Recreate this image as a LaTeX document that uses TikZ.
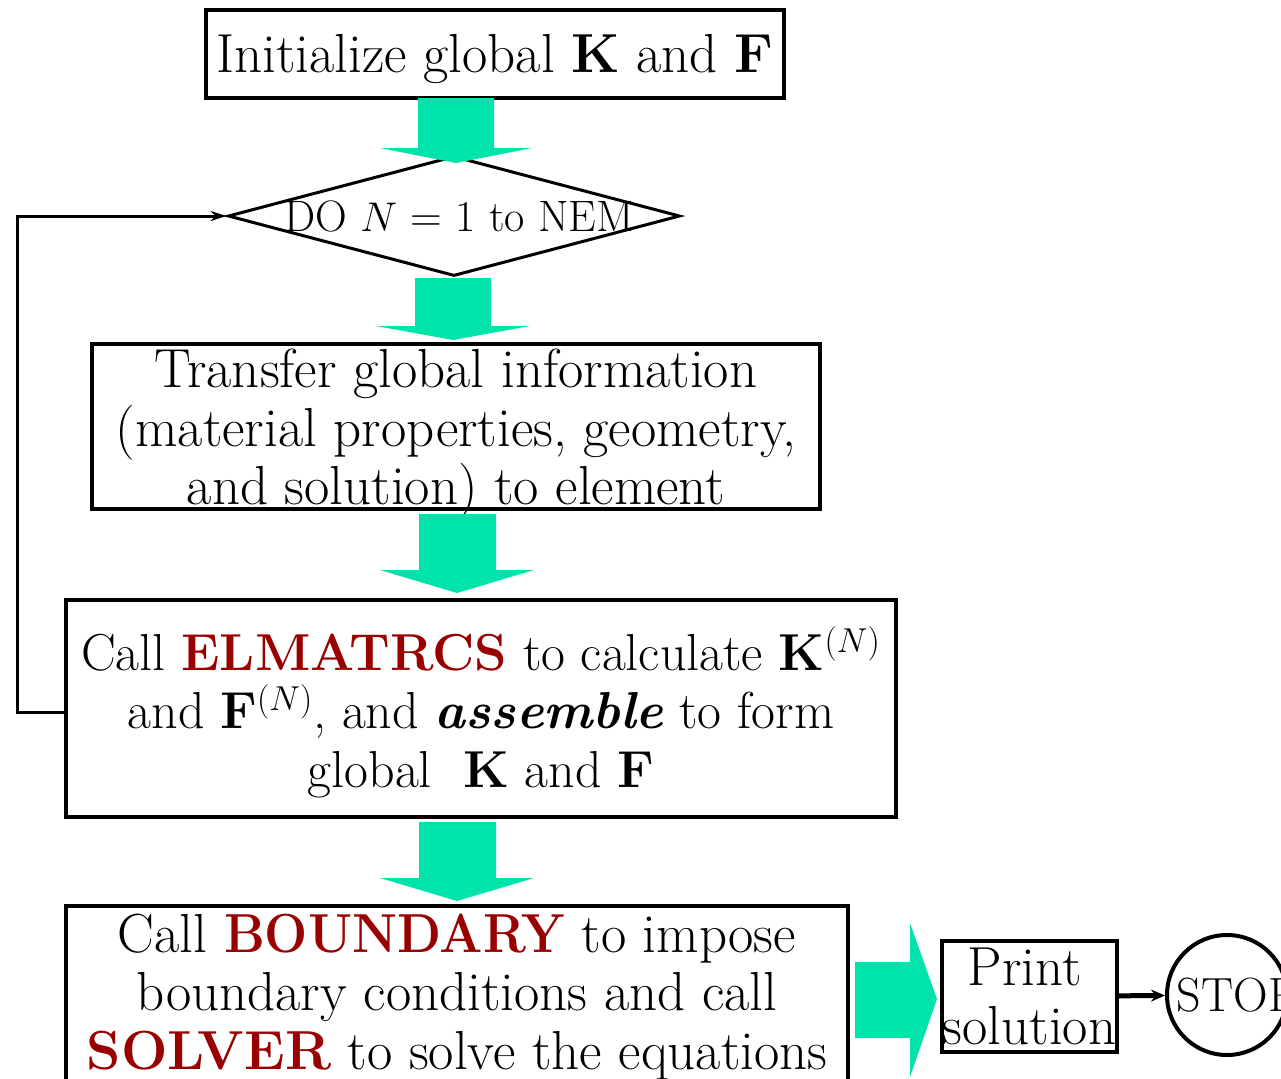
\documentclass[tikz,border=0pt]{standalone}
\usetikzlibrary{shapes.geometric,arrows.meta,calc}
\definecolor{blockgreen}{RGB}{0,227,170}
\definecolor{darkred}{RGB}{153,0,0}
\newcommand\redword[1]{\textcolor{darkred}{\textbf{#1}}}
\begin{document}
\begin{tikzpicture}[x=0.5pt,y=-0.5pt,
  box/.style={draw, line width=2pt, inner sep=0pt},
  txt/.style={inner sep=0pt, align=center, font=\fontsize{27.5}{29.25}\selectfont},
  blockarrow/.style={fill=blockgreen, draw=none},
  loopline/.style={line width=1.5pt, -{Stealth[length=8pt,width=5pt]}},
  thickarrow/.style={line width=2.5pt, -{Stealth[length=7pt,width=6pt]}}]
\useasboundingbox (0,0) rectangle (1281,1078);
\clip (0,0) rectangle (1281,1078);

\node[box, minimum width=289pt, minimum height=44pt,
  label={[txt, yshift=-2.5pt]center:Initialize global \textbf{K} and \textbf{F}}] (init) at (495,54) {};

\node[diamond, draw, line width=1.5pt, minimum width=226pt, minimum height=60pt, inner sep=0pt,
  font=\fontsize{22}{24}\selectfont] (dia) at (454,216)
  {\makebox[0pt]{\hspace*{5pt}DO $N$ = 1 to NEM}};

\node[box, minimum width=364pt, minimum height=82.5pt,
  label={[txt, yshift=-4pt]center:Transfer global information\\(material properties, geometry,\\and solution) to element}] (transfer) at (456,426) {};

\node[box, minimum width=415pt, minimum height=108.5pt,
  label={[txt, font=\fontsize{26}{29.25}\selectfont, yshift=-2pt]center:Call \redword{ELMATRCS} to calculate \textbf{K}$^{(N)}$\\and \textbf{F}$^{(N)}$, and \textbf{\textit{assemble}} to form\\global\ \ \textbf{K} and \textbf{F}}] (elmat) at (481,708) {};

\node[box, minimum width=391pt, minimum height=100pt,
  label={[txt, yshift=4.5pt]center:Call \scalebox{0.93}[1]{\redword{BOUNDARY}} to impose\\boundary conditions and call\\\redword{SOLVER} to solve the equations}] (bnd) at (457,1006) {};

\node[box, minimum width=87.5pt, minimum height=55.5pt,
  label={[txt]center:\makebox[0pt]{Print\hspace*{5pt}}\\\makebox[0pt]{solution}}] (print) at (1029.5,996.5) {};

\node[circle, draw, line width=2pt, minimum size=60pt, inner sep=0pt,
  font=\fontsize{24}{26}\selectfont] (stop) at (1227,995)
  {\makebox[0pt]{\hspace*{10.5pt}STOP}};

% block arrows
\fill[blockarrow] (418,98) -- (494,98) -- (494,148) -- (532,148) -- (456,163) -- (380,148) -- (418,148) -- cycle;
\fill[blockarrow] (415,278) -- (491,278) -- (491,326) -- (530,326) -- (453,340) -- (376,326) -- (415,326) -- cycle;
\fill[blockarrow] (419,514) -- (496,514) -- (496,570) -- (534,570) -- (457,593) -- (380,570) -- (419,570) -- cycle;
\fill[blockarrow] (419,822) -- (496,822) -- (496,878) -- (534,878) -- (457,901) -- (380,878) -- (419,878) -- cycle;
\fill[blockarrow] (855,962) -- (910,962) -- (910,923) -- (937,999) -- (910,1077) -- (910,1038) -- (855,1038) -- cycle;

% connectors
\draw[loopline] ($(elmat.west)+(0,4)$) -- ++(-47,0) |- (dia.west);
\draw[thickarrow] (print) -- (stop);
\end{tikzpicture}
\end{document}
